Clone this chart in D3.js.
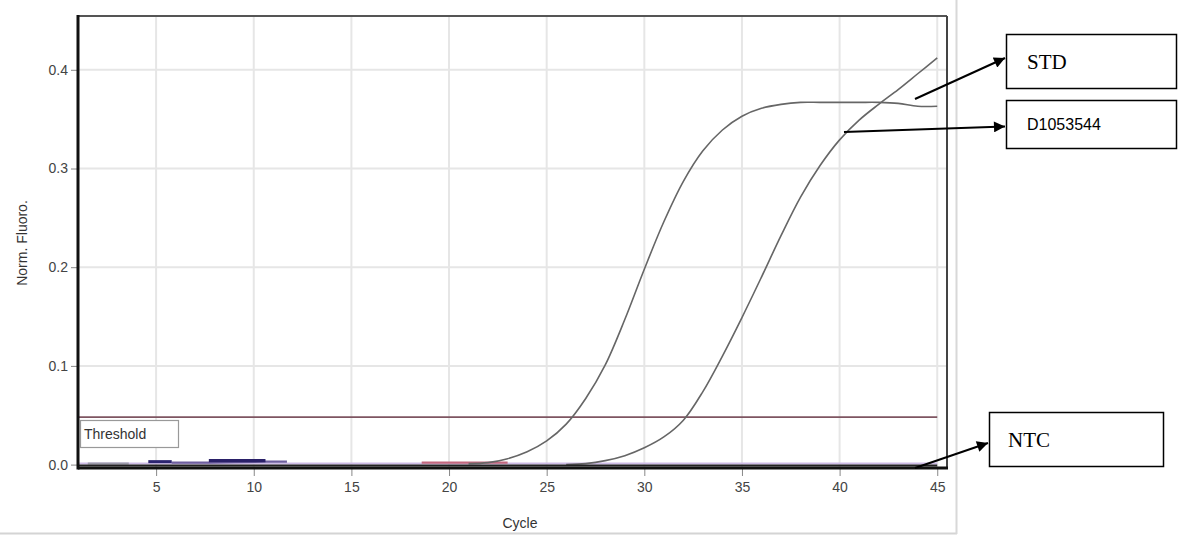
<!DOCTYPE html>
<html><head><meta charset="utf-8">
<script src="https://cdn.jsdelivr.net/npm/d3@7"></script>
<style>html,body{margin:0;padding:0;background:#fff;}svg{display:block;}</style>
</head><body>
<svg id="c" width="1178" height="536"></svg>
<script>
// ---- data ----
const xTicks = [5, 10, 15, 20, 25, 30, 35, 40, 45];
const yTicks = [0.0, 0.1, 0.2, 0.3, 0.4];
const yTickLabels = ["0.0", "0.1", "0.2", "0.3", "0.4"];
const thresholdValue = 0.048;

const stdCycles = [21,22,23,24,25,26,27,28,29,30,31,32,33,34,35,36,37,38,39,40,41,42,43,44,45];
const stdValues = [0.001,0.002,0.006,0.013,0.024,0.041,0.067,0.101,0.147,0.198,0.246,0.287,0.318,0.339,0.353,0.361,0.365,0.367,0.367,0.367,0.367,0.367,0.366,0.363,0.363];

const dCycles = [26,27,28,29,30,31,32,33,34,35,36,37,38,39,40,41,42,43,44,45];
const dValues = [0.000,0.001,0.004,0.009,0.017,0.028,0.045,0.074,0.110,0.149,0.190,0.232,0.271,0.303,0.329,0.349,0.365,0.380,0.396,0.412];

const ntcCycles = [1,10,20,30,40,45];
const ntcValues = [-0.001,-0.001,-0.001,-0.001,-0.001,-0.001];

const baseCycles = [1,10,20,30,40,45];
const baseValues = [0.001,0.001,0.001,0.001,0.001,0.001];

const navyACycles = [4.6, 5.8];
const navyAValues = [0.003, 0.003];
const navyBCycles = [7.7, 10.6];
const navyBValues = [0.004, 0.004];
const purpleCycles = [5.8, 7.7, 10.6, 11.7];
const purpleValues = [0.002, 0.002, 0.003, 0.003];
const greyCycles = [1.5, 3.6];
const greyValues = [0.001, 0.001];
const pinkCycles = [18.6, 23.0];
const pinkValues = [0.002, 0.002];

const labels = {std: "STD", d: "D1053544", ntc: "NTC", threshold: "Threshold", xTitle: "Cycle", yTitle: "Norm. Fluoro."};

// ---- chart ----
const svg = d3.select("#c");
const L = 78, R = 947, T = 16, B = 468;
const x = d3.scaleLinear().domain([1, 45.5]).range([L, R]);
const y = d3.scaleLinear().domain([0, 0.4]).range([464.6, 69.8]);

// outer light border
svg.append("line").attr("x1",0).attr("x2",957).attr("y1",533.5).attr("y2",533.5).attr("stroke","#d4d4d4").attr("stroke-width",2);
svg.append("line").attr("x1",956.5).attr("x2",956.5).attr("y1",0).attr("y2",534).attr("stroke","#d8d8d8").attr("stroke-width",2);

// grid
const g = svg.append("g");
g.selectAll(".vg").data(xTicks).join("line")
  .attr("x1",d=>x(d)).attr("x2",d=>x(d)).attr("y1",T).attr("y2",B)
  .attr("stroke","#e6e6e6").attr("stroke-width",2);
g.selectAll(".hg").data(yTicks.filter(d=>d>0)).join("line")
  .attr("x1",L).attr("x2",R).attr("y1",d=>y(d)).attr("y2",d=>y(d))
  .attr("stroke","#e6e6e6").attr("stroke-width",2);

// axes
const yAxis = d3.axisLeft(y).tickValues(yTicks).tickFormat((d,i)=>yTickLabels[i]).tickSize(6).tickPadding(3);
const ya = svg.append("g").attr("transform",`translate(${L-1},0)`).call(yAxis);
ya.select(".domain").remove();
ya.selectAll("line").attr("stroke","#888");
ya.selectAll("text").attr("font-family","Liberation Sans, Arial, sans-serif").attr("font-size",14).attr("fill","#444");

const xAxis = d3.axisBottom(x).tickValues(xTicks).tickSize(8).tickPadding(6);
const xa = svg.append("g").attr("transform",`translate(0,${B})`).call(xAxis);
xa.select(".domain").remove();
xa.selectAll("line").attr("stroke","#888");
xa.selectAll("text").attr("font-family","Liberation Sans, Arial, sans-serif").attr("font-size",14).attr("fill","#444");

// titles
svg.append("text").attr("x",520).attr("y",528).attr("text-anchor","middle")
  .attr("font-family","Liberation Sans, Arial, sans-serif").attr("font-size",14).attr("fill","#333").text(labels.xTitle);
svg.append("text").attr("transform","translate(27,243) rotate(-90)").attr("text-anchor","middle")
  .attr("font-family","Liberation Sans, Arial, sans-serif").attr("font-size",14).attr("fill","#333").text(labels.yTitle);

// threshold
svg.append("line").attr("x1",L).attr("x2",x(45)).attr("y1",y(thresholdValue)).attr("y2",y(thresholdValue))
  .attr("stroke","#7e5561").attr("stroke-width",1.8);
svg.append("rect").attr("x",80.5).attr("y",420.5).attr("width",98).attr("height",27)
  .attr("fill","#fff").attr("stroke","#999").attr("stroke-width",1.2);
svg.append("text").attr("x",84).attr("y",439).attr("font-family","Liberation Sans, Arial, sans-serif")
  .attr("font-size",14).attr("fill","#333").text(labels.threshold);

// series
const line = d3.line().x(d=>x(d[0])).y(d=>y(d[1])).curve(d3.curveCatmullRom.alpha(0.5));
function draw(cs, vs, color, w){
  svg.append("path").datum(cs.map((c,i)=>[c, vs[i]])).attr("d", line)
    .attr("fill","none").attr("stroke",color).attr("stroke-width",w);
}
draw(baseCycles, baseValues, "#cdbbe6", 2);
draw(greyCycles, greyValues, "#9a9aa8", 2);
draw(purpleCycles, purpleValues, "#6e5f9e", 2.2);
draw(navyACycles, navyAValues, "#2c2470", 3);
draw(navyBCycles, navyBValues, "#2a2068", 3.2);
draw(pinkCycles, pinkValues, "#c2687e", 2.2);
draw(stdCycles, stdValues, "#666", 1.6);
draw(dCycles, dValues, "#666", 1.6);
draw(ntcCycles, ntcValues, "#222", 2);

// frame
svg.append("line").attr("x1",L).attr("x2",R).attr("y1",T).attr("y2",T).attr("stroke","#555").attr("stroke-width",2);
svg.append("line").attr("x1",R).attr("x2",R).attr("y1",T).attr("y2",B).attr("stroke","#444").attr("stroke-width",2);
svg.append("line").attr("x1",L).attr("x2",L).attr("y1",T-1).attr("y2",B+1.5).attr("stroke","#111").attr("stroke-width",3);
svg.append("line").attr("x1",L).attr("x2",R+1).attr("y1",B).attr("y2",B).attr("stroke","#111").attr("stroke-width",3);

// annotations
const defs = svg.append("defs");
defs.append("marker").attr("id","ah").attr("viewBox","0 0 10 10").attr("refX",10).attr("refY",5)
  .attr("markerWidth",16).attr("markerHeight",11).attr("markerUnits","userSpaceOnUse").attr("orient","auto")
  .append("path").attr("d","M0,0 L10,5 L0,10 Z").attr("fill","#000");

function box(x0, y0, w, h, txt, tx, font, fs){
  svg.append("rect").attr("x",x0).attr("y",y0).attr("width",w).attr("height",h)
    .attr("fill","#fff").attr("stroke","#000").attr("stroke-width",1.5);
  svg.append("text").attr("x",tx).attr("y",y0+h/2).attr("dy","0.35em")
    .attr("font-family",font).attr("font-size",fs).attr("fill","#000").text(txt);
}
box(1006.5, 34.5, 170, 54, labels.std, 1027, "Liberation Serif, Times New Roman, serif", 21);
box(1006.5, 100.5, 170, 48, labels.d, 1027, "Liberation Sans, Arial, sans-serif", 16);
box(989.5, 412.5, 174, 54, labels.ntc, 1008, "Liberation Serif, Times New Roman, serif", 21);

function arrow(x1,y1,x2,y2){
  svg.append("line").attr("x1",x1).attr("y1",y1).attr("x2",x2).attr("y2",y2)
    .attr("stroke","#000").attr("stroke-width",2).attr("marker-end","url(#ah)");
}
arrow(915, 99, 1005, 58);
arrow(844, 132, 1005, 126.5);
arrow(915, 468, 988, 443);
</script>
</body></html>
